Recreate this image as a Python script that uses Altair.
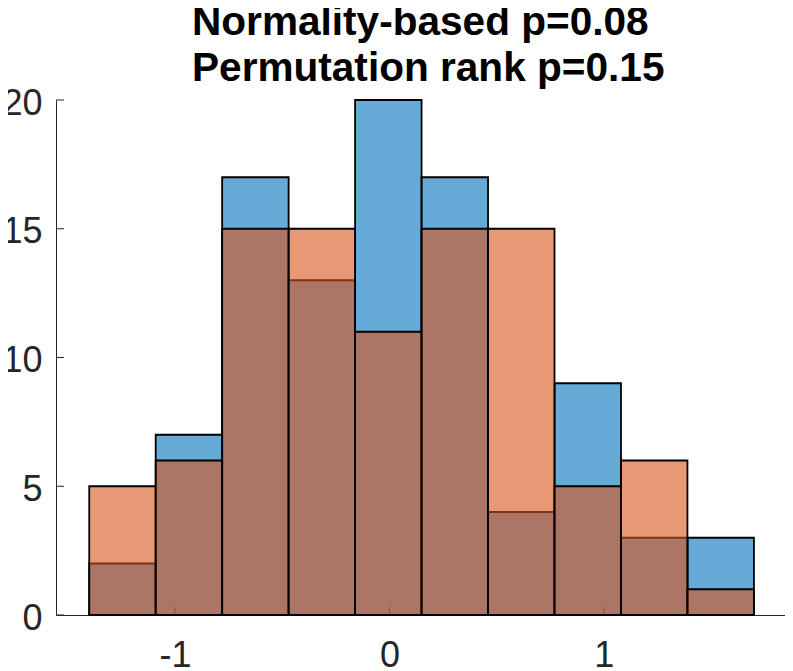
import altair as alt
import pandas as pd

# ---- data ----
edges = [-1.40, -1.09, -0.78, -0.47, -0.16, 0.15, 0.46, 0.77, 1.08, 1.39, 1.70]
blue_counts = [2, 7, 17, 13, 20, 17, 4, 9, 3, 3]
orange_counts = [5, 6, 15, 15, 11, 15, 15, 5, 6, 1]
series_names = ["A", "B"]
x_ticks = [-1, 0, 1]
y_ticks = [0, 5, 10, 15, 20]
title_lines = ["Normality-based p=0.08", "Permutation rank p=0.15"]

rows = []
for name, counts in zip(series_names, (blue_counts, orange_counts)):
    for i, c in enumerate(counts):
        rows.append({"series": name, "order": series_names.index(name),
                     "lo": edges[i], "hi": edges[i + 1], "count": c})
df = pd.DataFrame(rows)

W, H = 729, 515
FONT = "Liberation Sans"
AX = "#262626"

xs = alt.Scale(domain=[-1.555, 1.845], nice=False, zero=False)
ys = alt.Scale(domain=[0, 20], nice=False, zero=True)

hyphen_label = "datum.value < 0 ? '-' + format(abs(datum.value), 'd') : format(datum.value, 'd')"

x_axis = alt.Axis(values=x_ticks, title=None, grid=False, ticks=False, tickSize=0,
                  labelFontSize=36, labelFont=FONT, labelColor=AX, labelPadding=23,
                  domainColor=AX, domainWidth=1, labelExpr=hyphen_label)
y_axis = alt.Axis(values=y_ticks, title=None, grid=False, ticks=False, tickSize=0,
                  labelFontSize=36, labelFont=FONT, labelColor=AX, labelPadding=14,
                  labelOffset=3, domainColor=AX, domainWidth=1, labelExpr=hyphen_label)

xt = alt.Chart(pd.DataFrame({"t": x_ticks})).mark_rule(color=AX, strokeWidth=1).encode(
    x=alt.X("t:Q", scale=xs, axis=x_axis),
    y=alt.value(H), y2=alt.value(H - 8))

yt = alt.Chart(pd.DataFrame({"v": y_ticks})).mark_rule(color=AX, strokeWidth=1).encode(
    y=alt.Y("v:Q", scale=ys, axis=y_axis),
    x=alt.value(0), x2=alt.value(8))

bars = alt.Chart(df).mark_rect(stroke="black", strokeWidth=1.8, fillOpacity=0.6).encode(
    x=alt.X("lo:Q", scale=xs, axis=x_axis),
    x2="hi:Q",
    y=alt.Y("count:Q", scale=ys, axis=y_axis),
    y2=alt.datum(0),
    color=alt.Color("series:N", scale=alt.Scale(domain=series_names, range=["#0072BD", "#D95319"]),
                    legend=None),
    order=alt.Order("order:Q"),
)

chart = alt.layer(xt, yt, bars).properties(
    width=W, height=H,
    autosize=alt.AutoSizeParams(type="none"),
    padding={"left": 48, "top": 92, "right": 0, "bottom": 56},
    title=alt.TitleParams(text=title_lines, font=FONT, fontSize=40.6, fontWeight="bold",
                          color="black", lineHeight=46, anchor="start", frame="group",
                          align="left", baseline="alphabetic", offset=19, dy=56, dx=136),
).configure_view(stroke=None)

chart.save("out.html", embed_options={"renderer": "svg", "actions": False})
